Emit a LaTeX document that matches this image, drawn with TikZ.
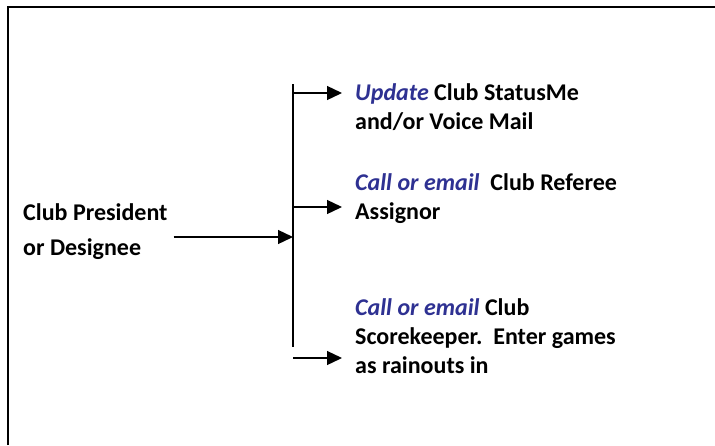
\documentclass[tikz,border=0pt]{standalone}
\usepackage{fontspec}
\setmainfont{Carlito}
\usetikzlibrary{positioning, calc, arrows.meta}
\definecolor{action}{HTML}{2E3192}

\begin{document}
\begin{tikzpicture}[
    x=1pt, y=-1pt,
    >=Triangle,
    font=\bfseries\fontsize{24}{29}\selectfont,
    step text/.style={
        anchor=west,
        align=left,
        inner sep=0pt
    },
    arr/.style={
        line width=1.3pt,
        -{Triangle[length=15pt, width=14pt]}
    },
    frame/.style={line width=2.2pt}
]

\useasboundingbox (0,0) rectangle (715,445);

% outer frame (open at right and bottom)
\draw[frame] (8.3,445) -- (8.3,7.3) -- (715,7.3);

\node[step text, font=\bfseries\fontsize{24}{35}\selectfont] (pres) at (23,232) {Club President\\or Designee};

\node[step text] (t1) at (355,107) {\textcolor{action}{\textit{Update}} Club StatusMe\\and/or Voice Mail};
\node[step text] (t2) at (355,199) {\textcolor{action}{\textit{Call or email}}\ \ Club Referee\\Assignor};
\node[step text] (t3) at (355,336) {\textcolor{action}{\textit{Call or email}} Club\\Scorekeeper.\ \ Enter games\\as rainouts in};

\coordinate (bustop) at (293,84);
\coordinate (busbot) at (293,347);
\coordinate (jin) at (293,237);
\coordinate (b1) at (293,93);
\coordinate (b2) at (293,207);
\coordinate (b3) at (293,358);

\draw[line width=1.3pt] (bustop) -- (busbot);

\draw[arr] ([xshift=6pt]pres.east |- jin) -- (jin);
\draw[arr] (b1) -- ([xshift=-13pt]b1 -| t1.west);
\draw[arr] (b2) -- ([xshift=-13pt]b2 -| t2.west);
\draw[arr] (b3) -- ([xshift=-13pt]b3 -| t3.west);

\end{tikzpicture}
\end{document}
